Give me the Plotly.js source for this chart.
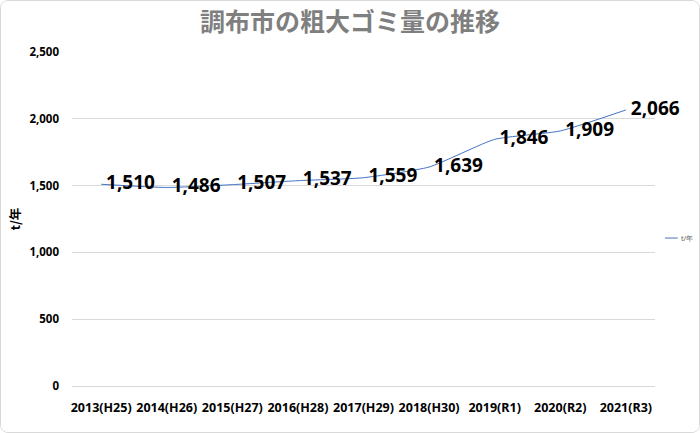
<!DOCTYPE html>
<html>
<head>
<meta charset="utf-8">
<script src="https://cdn.plot.ly/plotly-3.0.1.min.js"></script>
<style>
    body { margin: 0; background: #ffffff; }
    #chart {
        width: 700px;
        height: 433px;
        box-sizing: border-box;
        border: 1px solid #d9d9d9;
        border-radius: 8px;
        overflow: hidden;
    }
</style>
</head>
<body>
<div id="chart"></div>
<script>
// Fiscal years (western + Japanese era)
var years = ["2013(H25)", "2014(H26)", "2015(H27)", "2016(H28)", "2017(H29)",
             "2018(H30)", "2019(R1)", "2020(R2)", "2021(R3)"];

// Bulky waste amount, t/year
var tons = [1510, 1486, 1507, 1537, 1559, 1639, 1846, 1909, 2066];

// Y axis ticks
var yTicks = [0, 500, 1000, 1500, 2000, 2500];
var yTickText = ["0", "500", "1,000", "1,500", "2,000", "2,500"];

var seriesName = "t/年";
var lineColor = "#4472c4";
var labelFont = "Noto Sans, Open Sans, sans-serif";

var trace = {
    name: seriesName,
    type: "scatter",
    mode: "lines+text",
    x: years,
    y: tons,
    // leading space keeps the label a little off the point, as in the original
    text: tons.map(function (v) { return " " + v.toLocaleString("en-US"); }),
    textposition: "middle right",
    textfont: { family: labelFont, size: 19, color: "#000000", weight: "bold" },
    line: { color: lineColor, width: 1, shape: "spline", smoothing: 0.5 },
    cliponaxis: false,
    hoverinfo: "x+y"
};

var layout = {
    width: 698,
    height: 431,
    margin: { l: 71, r: 44, t: 51, b: 46 },
    paper_bgcolor: "#ffffff",
    plot_bgcolor: "#ffffff",
    showlegend: false,
    title: {
        text: "<b>調布市の粗大ゴミ量の推移</b>",
        font: { family: "Noto Sans CJK JP, sans-serif", size: 25, color: "#7f7f7f" },
        x: 0.5,
        xanchor: "center",
        xref: "container",
        y: 0.95,
        yanchor: "middle"
    },
    xaxis: {
        type: "category",
        tickfont: { family: labelFont, size: 12.5, color: "#000000", weight: "bold" },
        showgrid: false,
        showline: false,
        zeroline: false,
        ticks: "",
        ticklabelstandoff: 12
    },
    yaxis: {
        range: [0, 2500],
        tickvals: yTicks,
        ticktext: yTickText,
        tickfont: { family: labelFont, size: 11.5, color: "#000000", weight: "bold" },
        gridcolor: "#d9d9d9",
        gridwidth: 1,
        zeroline: true,
        zerolinecolor: "#d9d9d9",
        showline: false,
        ticks: "",
        ticklabelstandoff: 12,
        title: {
            text: "<b>t/年</b>",
            font: { family: "Noto Sans CJK JP, sans-serif", size: 12.5, color: "#000000" },
            standoff: 6
        }
    },
    // Small legend at the right, drawn by hand so it does not squeeze the plot
    shapes: [{
        type: "line",
        xref: "paper",
        yref: "paper",
        x0: 1.017,
        x1: 1.039,
        y0: 0.443,
        y1: 0.443,
        line: { color: lineColor, width: 1 }
    }],
    annotations: [{
        xref: "paper",
        yref: "paper",
        x: 1.042,
        y: 0.443,
        xanchor: "left",
        yanchor: "middle",
        showarrow: false,
        text: seriesName,
        font: { family: labelFont, size: 7, color: "#595959" }
    }]
};

var config = {
    displayModeBar: false,
    staticPlot: true
};

Plotly.newPlot("chart", [trace], layout, config);
</script>
</body>
</html>
